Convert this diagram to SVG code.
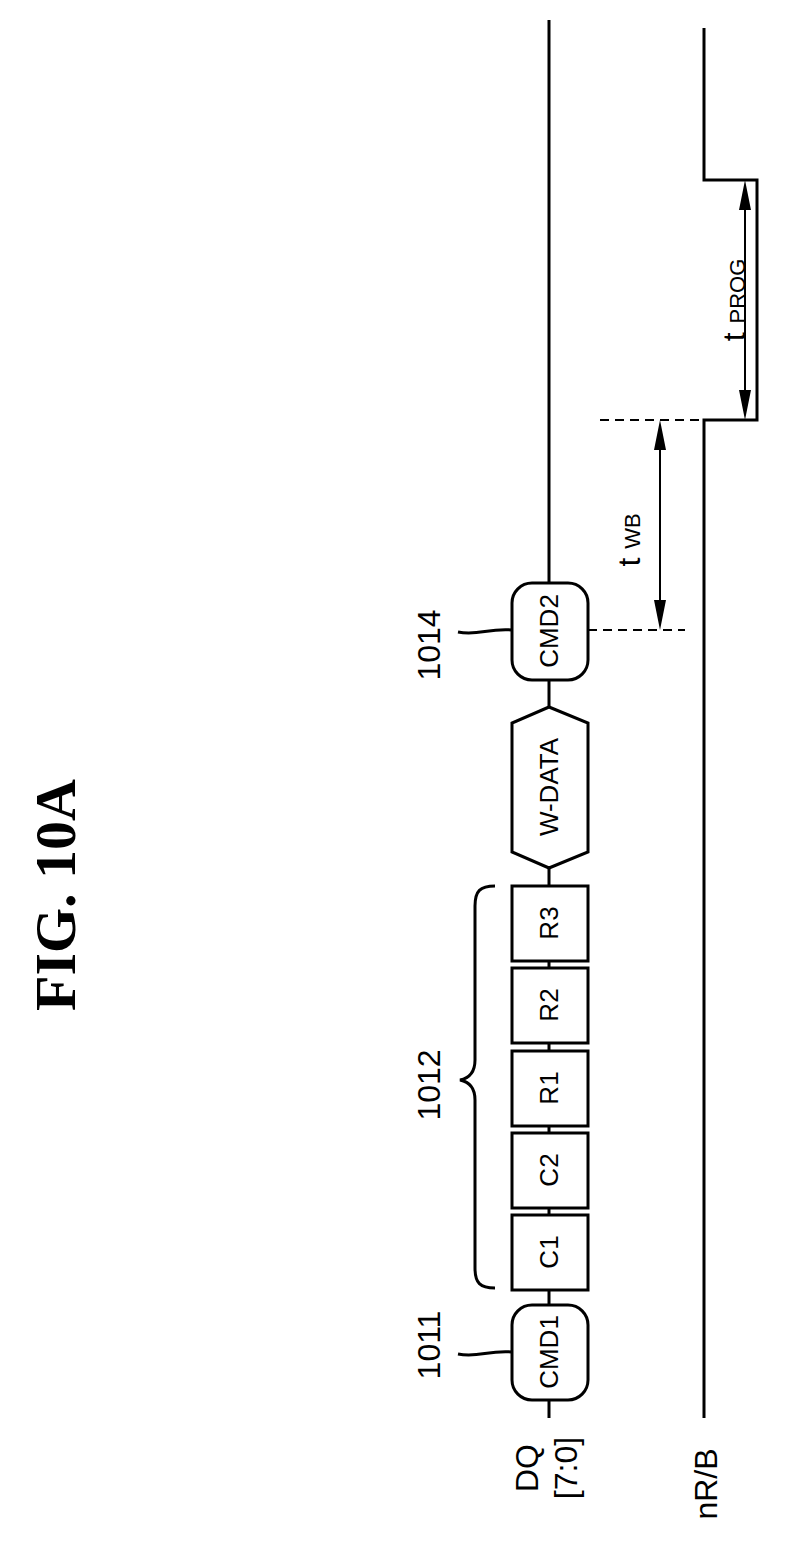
<svg xmlns="http://www.w3.org/2000/svg" width="810" height="1549" viewBox="0 0 810 1549">
<style>
.s{fill:none;stroke:#000;stroke-width:3}
.b{fill:#fff;stroke:#000;stroke-width:3}
.d{fill:none;stroke:#000;stroke-width:2;stroke-dasharray:9,6}
.t{font-family:"Liberation Sans",Arial,sans-serif;font-size:26px}
.n{font-family:"Liberation Sans",Arial,sans-serif;font-size:32px}
.l{font-family:"Liberation Sans",Arial,sans-serif;font-size:22px}
</style>
<rect width="810" height="1549" fill="#fff"/>
<text transform="translate(75,895) rotate(-90)" text-anchor="middle" font-family="Liberation Serif,serif" font-weight="bold" font-size="58">FIG.  10A</text>
<g id="connectors">
<path class="s" d="M549,1418V20"/>
<path class="s" d="M704,1418V420H757V180H704V28"/>
<path class="d" d="M588,630H685M600,420H704"/>
<path fill="none" stroke="#000" stroke-width="2" d="M660,430V620M745,190V410"/>
<path d="M660,420l-6,30h12zM660,630l-6,-30h12zM745,180l-6,30h12zM745,420l-6,-30h12z"/>
<path class="s" stroke-width="2" d="M458,1354c20,4 30,-4 54,-2M458,632c20,4 30,-4 54,-2"/>
<path class="s" stroke-width="2" d="M495,1288c-15,0 -20,-5 -20,-20V1100c0,-12 -5,-18 -15,-20c10,-2 15,-8 15,-20V906c0,-15 5,-20 20,-20"/>
</g>
<g id="cmd1"><rect class="b" x="512" y="1305" width="76" height="95" rx="20"/><text class="t" transform="translate(558,1352) rotate(-90)" text-anchor="middle">CMD1</text></g>
<g id="c1"><rect class="b" x="512" y="1215" width="76" height="75"/><text class="t" transform="translate(558,1252) rotate(-90)" text-anchor="middle">C1</text></g>
<g id="c2"><rect class="b" x="512" y="1133" width="76" height="75"/><text class="t" transform="translate(558,1170) rotate(-90)" text-anchor="middle">C2</text></g>
<g id="r1"><rect class="b" x="512" y="1051" width="76" height="75"/><text class="t" transform="translate(558,1088) rotate(-90)" text-anchor="middle">R1</text></g>
<g id="r2"><rect class="b" x="512" y="968" width="76" height="75"/><text class="t" transform="translate(558,1005) rotate(-90)" text-anchor="middle">R2</text></g>
<g id="r3"><rect class="b" x="512" y="886" width="76" height="75"/><text class="t" transform="translate(558,923) rotate(-90)" text-anchor="middle">R3</text></g>
<g id="wdata"><path class="b" d="M549,707L588,723V852L549,868L512,852V723z"/><text class="t" transform="translate(558,787) rotate(-90)" text-anchor="middle">W-DATA</text></g>
<g id="cmd2"><rect class="b" x="512" y="583" width="76" height="97" rx="20"/><text class="t" transform="translate(558,631) rotate(-90)" text-anchor="middle">CMD2</text></g>
<g id="labels">
<text class="n" transform="translate(440,1345) rotate(-90)" text-anchor="middle">1011</text>
<text class="n" transform="translate(440,1085) rotate(-90)" text-anchor="middle">1012</text>
<text class="n" transform="translate(440,645) rotate(-90)" text-anchor="middle">1014</text>
<text class="n" transform="translate(538,1468) rotate(-90)" text-anchor="middle">DQ</text>
<text class="n" transform="translate(577,1468) rotate(-90)" text-anchor="middle">[7:0]</text>
<text class="n" transform="translate(717,1484) rotate(-90)" text-anchor="middle">nR/B</text>
<text transform="translate(640,540) rotate(-90)" text-anchor="middle"><tspan class="n">t </tspan><tspan class="l">WB</tspan></text>
<text transform="translate(745,300) rotate(-90)" text-anchor="middle"><tspan class="n">t </tspan><tspan class="l">PROG</tspan></text>
</g>
</svg>
